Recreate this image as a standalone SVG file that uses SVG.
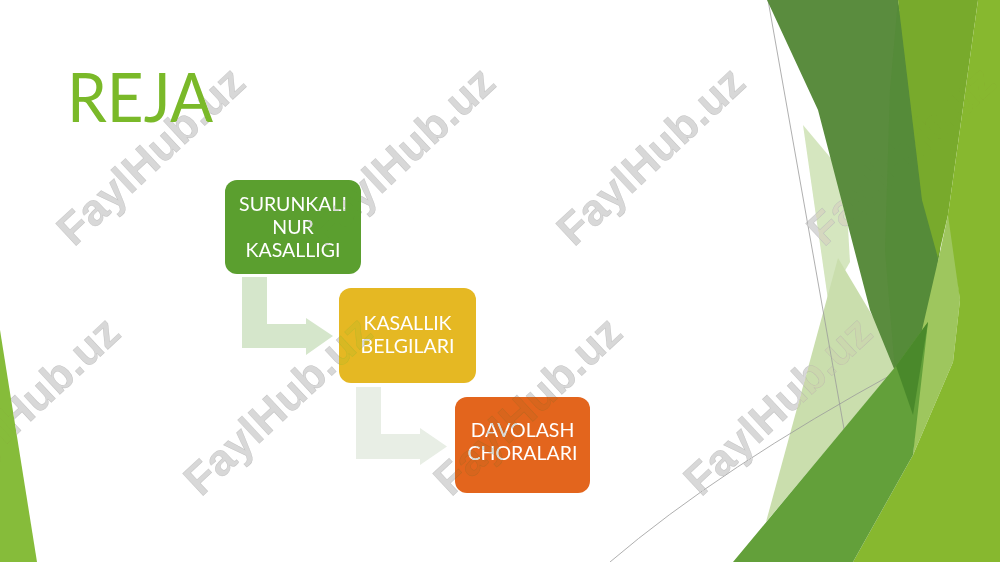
<svg xmlns="http://www.w3.org/2000/svg" width="1000" height="562" viewBox="0 0 1000 562">
<style>
.bt{font-family:Lato,"Open Sans","Liberation Sans",sans-serif;font-size:19.5px;fill:#ffffff;text-anchor:middle}
.wm{font-family:"Liberation Sans",Arial,sans-serif;font-weight:bold;font-size:44px;fill:#d8d8d8;stroke:#8a8a8a;stroke-width:0.5;stroke-opacity:0.35;text-anchor:middle;mix-blend-mode:darken}
.gl{fill:none;stroke:#9a9a9a;stroke-width:0.8}
</style>
<rect width="1000" height="562" fill="#ffffff"/>
<g id="background">
  <polygon points="0,330 0,562 37,562" fill="#86bc3a"/>
  <polygon points="803,125 845,175 850,262 828,300" fill="#d5e6bf"/>
  <polygon points="838,258 900,362 766,522" fill="#cadead"/>
  <line class="gl" x1="768" y1="0" x2="846" y2="440"/>
  <path class="gl" d="M610,562 Q720,468 900,370"/>
  <polygon points="767,0 898,0 940,250 913,415 870,310 818,110" fill="#5a8c3e"/>
  <polygon points="898,0 922,200 940,250 913,415 895,370 885,250 890,90" fill="#4f8934" opacity="0.45"/>
  <polygon points="898,0 978,0 948,215 938,258 922,200" fill="#78aa2c"/>
  <polygon points="940,252 950,205 960,300 953,362 913,455 922,330" fill="#9ec65e"/>
  <polygon points="978,0 1000,0 1000,562 853,562 913,455 953,362 960,300 948,215" fill="#87b82f"/>
  <polygon points="733,562 896,366 928,322 913,455 853,562" fill="#63a03a"/>
  <polygon points="896,366 928,322 913,415" fill="#4a892b"/>
</g>
<g id="title">
  <text x="67" y="122" font-family="Lato,'Open Sans','Liberation Sans',sans-serif" font-size="67" fill="#7ab929" textLength="146" lengthAdjust="spacingAndGlyphs">REJA</text>
</g>
<g id="connectors">
  <path d="M242,277 H267 V324 H306 V318 L333,336 L306,355 V348 H242 Z" fill="#d5e6cb"/>
  <path d="M356,387 H381 V434 H420 V428 L447,446.5 L420,465 V459 H356 Z" fill="#e8eee5"/>
</g>
<g id="node1">
  <rect x="225" y="180" width="136" height="94" rx="12" fill="#5b9f2f"/>
  <text class="bt" x="293" y="211">SURUNKALI</text>
  <text class="bt" x="293" y="234">NUR</text>
  <text class="bt" x="293" y="257">KASALLIGI</text>
</g>
<g id="node2">
  <rect x="339" y="288" width="137" height="95" rx="12" fill="#e5b823"/>
  <text class="bt" x="407.5" y="330">KASALLIK</text>
  <text class="bt" x="407.5" y="353">BELGILARI</text>
</g>
<g id="node3">
  <rect x="455" y="397" width="135" height="96" rx="12" fill="#e3651d"/>
  <text class="bt" x="522.5" y="437">DAVOLASH</text>
  <text class="bt" x="522.5" y="460">CHORALARI</text>
</g>
<g id="watermarks">
  <text class="wm" transform="translate(150,155) rotate(-43)" y="16" textLength="238" lengthAdjust="spacingAndGlyphs">FaylHub.uz</text>
  <text class="wm" transform="translate(400,155) rotate(-43)" y="16" textLength="238" lengthAdjust="spacingAndGlyphs">FaylHub.uz</text>
  <text class="wm" transform="translate(650,155) rotate(-43)" y="16" textLength="238" lengthAdjust="spacingAndGlyphs">FaylHub.uz</text>
  <text class="wm" transform="translate(900,155) rotate(-43)" y="16" textLength="238" lengthAdjust="spacingAndGlyphs">FaylHub.uz</text>
  <text class="wm" transform="translate(25,405) rotate(-43)" y="16" textLength="238" lengthAdjust="spacingAndGlyphs">FaylHub.uz</text>
  <text class="wm" transform="translate(277,405) rotate(-43)" y="16" textLength="238" lengthAdjust="spacingAndGlyphs">FaylHub.uz</text>
  <text class="wm" transform="translate(527,405) rotate(-43)" y="16" textLength="238" lengthAdjust="spacingAndGlyphs">FaylHub.uz</text>
  <text class="wm" transform="translate(777,405) rotate(-43)" y="16" textLength="238" lengthAdjust="spacingAndGlyphs">FaylHub.uz</text>
</g>
</svg>
